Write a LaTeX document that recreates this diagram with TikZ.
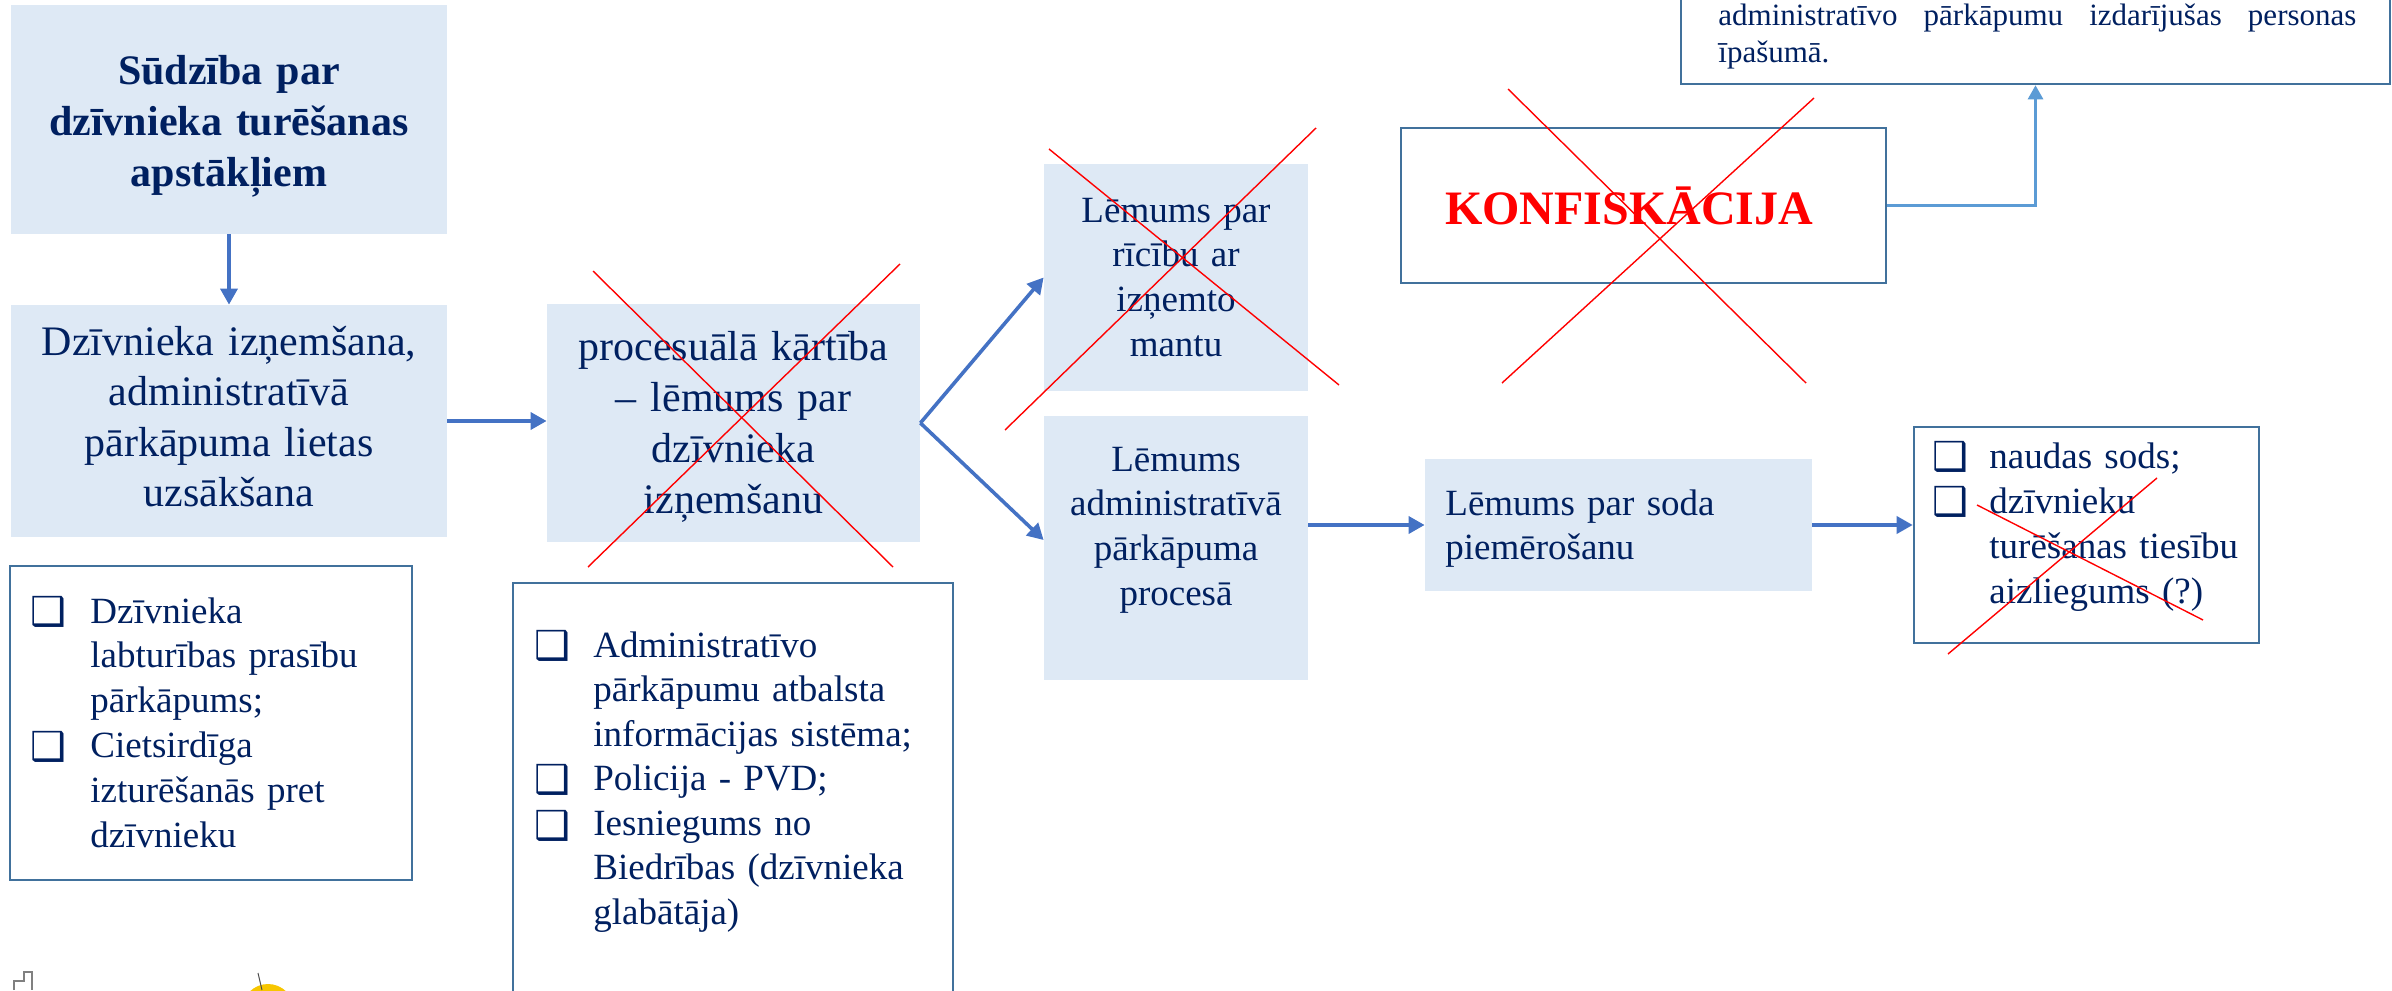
\documentclass[tikz,border=0pt]{standalone}
\usepackage{fontspec}
\setmainfont{Liberation Serif}
\newfontfamily\dvfont{DejaVu Sans}
\usetikzlibrary{arrows.meta,calc}
\definecolor{navy}{HTML}{002060}
\definecolor{boxfill}{HTML}{DEE9F5}
\definecolor{edgeblue}{HTML}{41719C}
\definecolor{arrowblue}{HTML}{4472C4}
\definecolor{linkblue}{HTML}{5B9BD5}
\definecolor{crossred}{HTML}{FF0000}
\definecolor{logoyellow}{HTML}{F7C600}
\newcommand{\bul}{{\dvfont\fontsize{20}{20}\selectfont ❑}}
\begin{document}
\begin{tikzpicture}[x=0.5pt,y=-0.5pt,
  filled/.style={rectangle, fill=boxfill, draw=none, inner sep=0pt},
  framed/.style={rectangle, draw=edgeblue, line width=1.3pt, fill=white, inner sep=0pt},
  bigtxt/.style={font=\fontsize{21}{25.3}\selectfont, text=navy, inner sep=0pt, align=center, anchor=base},
  midtxt/.style={font=\fontsize{18.5}{22.4}\selectfont, text=navy, inner sep=0pt},
  flow/.style={draw=arrowblue, line width=1.8pt, -{Triangle[length=8pt,width=8.5pt]}},
  link/.style={draw=linkblue, line width=1.4pt, -{Triangle[length=7pt,width=7.5pt]}},
  strike/.style={draw=crossred, line width=0.7pt},
  bullet/.style={anchor=base west, inner sep=0pt, text=navy},
]
\useasboundingbox (0,0) rectangle (2392,990);
\clip (0,0) rectangle (2392,990);

% boxes
\node[filled, minimum width=218pt, minimum height=114.5pt] (b1) at (229,119.5) {};
\node[filled, minimum width=218pt, minimum height=116pt] (b2) at (229,421) {};
\node[framed, minimum width=201pt, minimum height=157pt] (b3) at (211,723) {};
\node[filled, minimum width=186.5pt, minimum height=119pt] (b4) at (733.5,423) {};
\node[framed, minimum width=220pt, minimum height=213.5pt] (b5) at (733,796.5) {};
\node[filled, minimum width=132pt, minimum height=113.5pt] (b6) at (1176,277.5) {};
\node[filled, minimum width=132pt, minimum height=132pt] (b7) at (1176,548) {};
\node[filled, minimum width=193.5pt, minimum height=66pt] (b8) at (1618.5,525) {};
\node[framed, minimum width=172.5pt, minimum height=108pt] (b9) at (2086.5,535) {};
\node[framed, minimum width=242.5pt, minimum height=77.5pt] (bk) at (1643.5,205.5) {};
\node[framed, minimum width=354.5pt, minimum height=62pt] (bt) at (2035.5,22) {};

% texts
\node[bigtxt, font={\bfseries\fontsize{21}{25.3}\selectfont}, text width=218pt] (t1) at (229,85)
  {Sūdzība par\\dzīvnieka turēšanas\\apstākļiem};
\node[bigtxt, text width=218pt] (t2) at (229,355)
  {Dzīvnieka izņemšana,\\administratīvā\\pārkāpuma lietas\\uzsākšana};
\node[midtxt, anchor=base west, text width=180pt, align=left] (t3) at (90,623)
  {Dzīvnieka\\labturības prasību\\pārkāpums;\\Cietsirdīga\\izturēšanās pret\\dzīvnieku};
\node[bullet] (u31) at (30,625) {\bul};
\node[bullet] (u32) at (30,760) {\bul};
\node[bigtxt, font={\fontsize{21}{25.5}\selectfont}, text width=186.5pt] (t4) at (733.5,360)
  {procesuālā kārtība\\– lēmums par\\dzīvnieka\\izņemšanu};
\node[midtxt, anchor=base west, text width=200pt, align=left, font={\fontsize{18.5}{22.25}\selectfont}] (t5) at (593,657)
  {Administratīvo\\pārkāpumu atbalsta\\informācijas sistēma;\\Policija - PVD;\\Iesniegums no\\Biedrības (dzīvnieka\\glabātāja)};
\node[bullet] (u51) at (534,659) {\bul};
\node[bullet] (u52) at (534,793) {\bul};
\node[bullet] (u53) at (534,839) {\bul};
\node[midtxt, anchor=base, text width=132pt, align=center] (t6) at (1176,222)
  {Lēmums par\\rīcību ar\\izņemto\\mantu};
\node[midtxt, anchor=base, text width=132pt, align=center] (t7) at (1176,471)
  {Lēmums\\administratīvā\\pārkāpuma\\procesā};
\node[midtxt, anchor=base west, text width=180pt, align=left, font={\fontsize{18.5}{22}\selectfont}] (t8) at (1445,515)
  {Lēmums par soda\\piemērošanu};
\node[midtxt, anchor=base west, text width=150pt, align=left, font={\fontsize{18.5}{22.5}\selectfont}] (t9) at (1989,468)
  {naudas sods;\\dzīvnieku\\turēšanas tiesību\\aizliegums (?)};
\node[bullet] (u91) at (1932,470) {\bul};
\node[bullet] (u92) at (1932,515) {\bul};
\node[anchor=base, inner sep=0pt, text=crossred, font={\bfseries\fontsize{24}{24}\selectfont}] (tk) at (1629,224) {KONFISKĀCIJA};
\node[anchor=base west, inner sep=0pt, text=navy, text width=319pt, align=left, font={\fontsize{15.5}{18.5}\selectfont}] (tt) at (1718,26)
  {\hbox to 319pt{administratīvo\hfill pārkāpumu\hfill izdarījušas\hfill personas}\\īpašumā.};

% connectors
\draw[flow] (b1) -- (b2);
\draw[flow] (b2.east) -- (b2.east -| b4.west);
\draw[flow] (b4.east) -- (b6.west);
\draw[flow] (b4.east) -- ($(b7.west)+(0,-8)$);
\draw[flow] (b8.west -| b7.east) -- (b8.west);
\draw[flow] (b8.east) -- (b8.east -| b9.west);
\draw[link] (bk.east) -| (bt.south);

% strike-through crosses
\draw[strike] (593,271) -- (893,567);
\draw[strike] (900,264) -- (588,567);
\draw[strike] (1049,149) -- (1339,385);
\draw[strike] (1316,128) -- (1005,430);
\draw[strike] (1508,89) -- (1806,383);
\draw[strike] (1814,98) -- (1502,383);
\draw[strike] (1977,505) -- (2203,620);
\draw[strike] (2157,478) -- (1948,654);

% partial logos at the bottom edge
\draw[gray, line width=0.8pt] (14,990) -- (14,981) -- (24,981) -- (24,972) -- (32,972) -- (32,990);
\fill[logoyellow] (268,1010) circle[radius=26];
\draw[black!70, line width=0.5pt] (258,973) -- (262,990);
\end{tikzpicture}
\end{document}
